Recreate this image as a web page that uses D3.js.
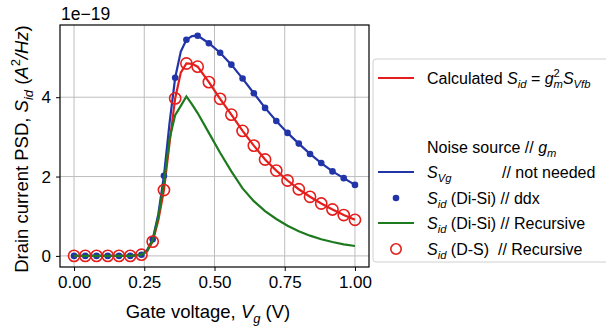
<!DOCTYPE html>
<html><head><meta charset="utf-8">
<script src="https://cdn.jsdelivr.net/npm/d3@7"></script>
<style>
body{margin:0;background:#fff}
svg{display:block}
text{font-family:"Liberation Sans",Arial,Helvetica,sans-serif;fill:#000}
</style>
</head><body>
<svg id="c" width="606" height="333"></svg>
<script>
// ---- data (units of 1e-19 A^2/Hz) ----
const xGrid = [0.00,0.04,0.08,0.12,0.16,0.20,0.24,0.28,0.32,0.36,0.40,0.44,0.48,0.52,0.56,0.60,0.64,0.68,0.72,0.76,0.80,0.84,0.88,0.92,0.96,1.00];
const xFine = [0.00,0.04,0.08,0.12,0.16,0.20,0.24,0.26,0.28,0.30,0.32,0.34,0.36,0.38,0.40,0.42,0.44,0.48,0.52,0.56,0.60,0.64,0.68,0.72,0.76,0.80,0.84,0.88,0.92,0.96,1.00];

const calcSid   = [0,0,0,0,0,0,0.03,0.12,0.36,0.90,1.66,2.85,3.97,4.62,4.85,4.84,4.77,4.38,3.96,3.56,3.15,2.78,2.43,2.15,1.90,1.68,1.49,1.32,1.17,1.03,0.91];
const sVg       = [0,0,0,0,0,0,0.03,0.14,0.42,1.05,2.02,3.35,4.49,5.15,5.45,5.54,5.55,5.36,5.12,4.82,4.47,4.10,3.73,3.40,3.10,2.83,2.57,2.34,2.13,1.96,1.79];
const sidDdx    = [0,0,0,0,0,0,0.03,0.42,2.02,4.49,5.45,5.55,5.36,5.12,4.82,4.47,4.10,3.73,3.40,3.10,2.83,2.57,2.34,2.13,1.96,1.79];
const sidRecDiSi= [0,0,0,0,0,0,0.03,0.12,0.40,0.98,1.85,2.95,3.55,3.78,4.02,3.82,3.60,3.10,2.60,2.13,1.70,1.38,1.13,0.93,0.76,0.62,0.51,0.42,0.35,0.29,0.25];
const sidRecDS  = [0,0,0,0,0,0,0.03,0.36,1.66,3.97,4.85,4.77,4.38,3.96,3.56,3.15,2.78,2.43,2.15,1.90,1.68,1.49,1.32,1.17,1.03,0.91];

const xTicks = [0.00,0.25,0.50,0.75,1.00];
const xTickLabels = ["0.00","0.25","0.50","0.75","1.00"];
const yTicks = [0,2,4];
const yTickLabels = ["0","2","4"];

// ---- layout ----
const svg = d3.select("#c");
const L = 60, R = 369, T = 25, B = 267;
const FS = 17, LBL = 18.5;
const x = d3.scaleLinear().domain([-0.05,1.05]).range([L,R]);
const y = d3.scaleLinear().domain([-0.28,5.82]).range([B,T]);

const cRed = "#e51e1c", cBlue = "#2235a8", cGreen = "#1e7a1e", cGrid = "#bdbdbd";

svg.append("rect").attr("width",606).attr("height",333).attr("fill","#fff");

// grid
const g = svg.append("g");
g.selectAll(".gx").data(xTicks).enter().append("line")
  .attr("x1",d=>x(d)).attr("x2",d=>x(d)).attr("y1",T).attr("y2",B)
  .attr("stroke",cGrid).attr("stroke-width",1);
g.selectAll(".gy").data(yTicks).enter().append("line")
  .attr("x1",L).attr("x2",R).attr("y1",d=>y(d)).attr("y2",d=>y(d))
  .attr("stroke",cGrid).attr("stroke-width",1);

// axes
const xAxis = d3.axisBottom(x).tickValues(xTicks).tickFormat((d,i)=>xTickLabels[i]).tickSize(4).tickPadding(5);
const yAxis = d3.axisLeft(y).tickValues(yTicks).tickFormat((d,i)=>yTickLabels[i]).tickSize(4).tickPadding(5);
const ax = svg.append("g").attr("transform",`translate(0,${B})`).call(xAxis);
const ay = svg.append("g").attr("transform",`translate(${L},0)`).call(yAxis);
[ax,ay].forEach(a=>{
  a.select(".domain").remove();
  a.selectAll("line").attr("stroke","#000").attr("stroke-width",1);
  a.selectAll("text").attr("font-size",FS).attr("font-family","Liberation Sans, Arial, sans-serif").attr("fill","#000");
});

// clip
svg.append("clipPath").attr("id","clp").append("rect").attr("x",L).attr("y",T).attr("width",R-L).attr("height",B-T);
const plot = svg.append("g").attr("clip-path","url(#clp)");

const lineF = (ys)=> d3.line().x((d,i)=>x(xFine[i])).y(d=>y(d))(ys);

plot.append("path").attr("d",lineF(calcSid)).attr("fill","none").attr("stroke",cRed).attr("stroke-width",2.2);
plot.append("path").attr("d",lineF(sVg)).attr("fill","none").attr("stroke",cBlue).attr("stroke-width",2.2);
plot.selectAll(".bd").data(sidDdx).enter().append("circle")
  .attr("cx",(d,i)=>x(xGrid[i])).attr("cy",d=>y(d)).attr("r",3.3).attr("fill",cBlue);
plot.append("path").attr("d",lineF(sidRecDiSi)).attr("fill","none").attr("stroke",cGreen).attr("stroke-width",2.2);
plot.selectAll(".rc").data(sidRecDS).enter().append("circle")
  .attr("cx",(d,i)=>x(xGrid[i])).attr("cy",d=>y(d)).attr("r",5.6)
  .attr("fill","none").attr("stroke",cRed).attr("stroke-width",1.6);

// frame
svg.append("rect").attr("x",L).attr("y",T).attr("width",R-L).attr("height",B-T)
  .attr("fill","none").attr("stroke","#000").attr("stroke-width",1.2);

// offset text
svg.append("text").attr("x",61).attr("y",20).attr("font-size",FS+0.5).text("1e\u221219");

// rich text helper
function rich(sel, segs, fs){
  let level = 0;
  segs.forEach(s=>{
    const target = s.pos==="sub" ? 0.28*fs : s.pos==="sup" ? -0.42*fs : 0;
    const ts = sel.append("tspan").text(s.t);
    ts.attr("dy", target-level);
    level = target;
    if(s.pos) ts.attr("font-size", fs*0.7);
    if(s.it) ts.attr("font-style","italic");
    if(s.dx) ts.attr("dx", s.dx);
  });
}

// x label
const xl = svg.append("text").attr("x",208).attr("y",318).attr("text-anchor","middle").attr("font-size",LBL);
rich(xl,[{t:"Gate voltage, "},{t:"V",it:1},{t:"g",it:1,pos:"sub"},{t:" (V)"}],LBL);

// y label
const yl = svg.append("text").attr("transform","translate(28,149) rotate(-90)").attr("text-anchor","middle").attr("font-size",LBL);
rich(yl,[{t:"Drain current PSD, "},{t:"S",it:1},{t:"id",it:1,pos:"sub"},{t:" ("},{t:"A",it:1},{t:"2",pos:"sup"},{t:"/",it:1},{t:"Hz",it:1},{t:")"}],LBL);

// legend
const LF = 16;
const lg = svg.append("g");
lg.append("rect").attr("x",373).attr("y",59).attr("width",250).attr("height",203).attr("rx",3)
  .attr("fill","#fff").attr("fill-opacity",0.85).attr("stroke","#d0d0d0").attr("stroke-width",1);
const hx1 = 378, hx2 = 414, tx = 427;
const rows = [78,147,172,198,223,249];
lg.append("line").attr("x1",hx1).attr("x2",hx2).attr("y1",rows[0]).attr("y2",rows[0]).attr("stroke",cRed).attr("stroke-width",2.2);
lg.append("line").attr("x1",hx1).attr("x2",hx2).attr("y1",rows[2]).attr("y2",rows[2]).attr("stroke",cBlue).attr("stroke-width",2.2);
lg.append("circle").attr("cx",(hx1+hx2)/2).attr("cy",rows[3]).attr("r",3.3).attr("fill",cBlue);
lg.append("line").attr("x1",hx1).attr("x2",hx2).attr("y1",rows[4]).attr("y2",rows[4]).attr("stroke",cGreen).attr("stroke-width",2.2);
lg.append("circle").attr("cx",(hx1+hx2)/2).attr("cy",rows[5]).attr("r",5.2).attr("fill","none").attr("stroke",cRed).attr("stroke-width",1.6);

const tl = (yy)=> lg.append("text").attr("x",tx).attr("y",yy+5.5).attr("font-size",LF);
rich(tl(rows[0]),[{t:"Calculated "},{t:"S",it:1},{t:"id",it:1,pos:"sub"},{t:" = "},{t:"g",it:1},{t:"2",pos:"sup"},{t:"m",it:1,pos:"sub",dx:-LF*0.7*0.556},{t:"S",it:1},{t:"Vfb",it:1,pos:"sub"}],LF);
rich(tl(rows[1]),[{t:"Noise source // "},{t:"g",it:1},{t:"m",it:1,pos:"sub"}],LF);
rich(tl(rows[2]),[{t:"S",it:1},{t:"Vg",it:1,pos:"sub"}],LF);
lg.append("text").attr("x",502).attr("y",rows[2]+5.5).attr("font-size",LF).text("// not needed");
rich(tl(rows[3]),[{t:"S",it:1},{t:"id",it:1,pos:"sub"},{t:" (Di-Si) // ddx"}],LF);
rich(tl(rows[4]),[{t:"S",it:1},{t:"id",it:1,pos:"sub"},{t:" (Di-Si) // Recursive"}],LF);
rich(tl(rows[5]),[{t:"S",it:1},{t:"id",it:1,pos:"sub"},{t:" (D-S)\u00a0\u00a0// Recursive"}],LF);
</script>
</body></html>
